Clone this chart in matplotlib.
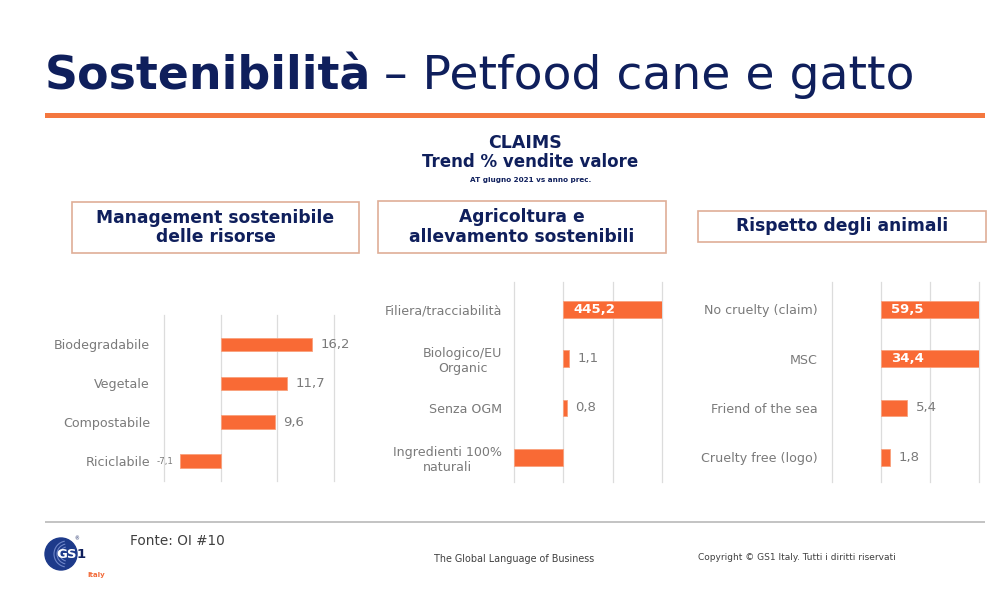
import matplotlib
matplotlib.use("Agg")
import matplotlib.pyplot as plt
import matplotlib.patches as patches
import numpy as np

# Data (% trend of sales value)
cat_management = ["Biodegradabile", "Vegetale", "Compostabile", "Riciclabile"]
val_management = [16.2, 11.7, 9.6, -7.1]

cat_agricoltura = ["Filiera/tracciabilità", "Biologico/EU\nOrganic", "Senza OGM", "Ingredienti 100%\nnaturali"]
val_agricoltura = [445.2, 1.1, 0.8, -10.0]
lab_agricoltura = ["445,2", "1,1", "0,8", None]   # last bar has no label in the source

cat_animali = ["No cruelty (claim)", "MSC", "Friend of the sea", "Cruelty free (logo)"]
val_animali = [59.5, 34.4, 5.4, 1.8]

panel_titles = ["Management sostenibile\ndelle risorse", "Agricoltura e\nallevamento sostenibili", "Rispetto degli animali"]

NAVY = "#0f1f5c"
ORANGE = "#f96a35"
LINE_ORANGE = "#f4773f"
GRAY_TXT = "#7a7a7a"
GRID = "#dcdcdc"
BOX_EDGE = "#dfae97"

W, H = 1000, 608
fig = plt.figure(figsize=(10, 6.08), dpi=100)
fig.patch.set_facecolor("white")


def fx(x):
    return x / W


def fy(y):
    return 1 - y / H


def fmt(v):
    return ("%.1f" % v).replace(".", ",")


def draw_panel(rect, cats, vals, labels, ylim, pad):
    left, top, right, bottom = rect
    ax = fig.add_axes([fx(left), fy(bottom), fx(right) - fx(left), fy(top) - fy(bottom)])
    xmin, xmax = -10, 20
    y = np.arange(len(cats))
    shown = np.clip(vals, xmin, xmax)
    ax.barh(y, shown, height=0.34, color=ORANGE, edgecolor="#f9a07c", linewidth=0.6, zorder=3)
    ax.set_xlim(xmin, xmax)
    ax.set_ylim(*ylim)
    ax.set_xticks([-10, 0, 10, 20])
    ax.xaxis.grid(True, color=GRID, linewidth=0.9, zorder=0)
    for gl in ax.get_xgridlines():
        gl.set_clip_on(False)
    ax.set_yticks(y)
    ax.set_yticklabels(cats, fontsize=9.1, color=GRAY_TXT, multialignment="center")
    ax.tick_params(axis="y", length=0, pad=pad)
    ax.tick_params(axis="x", length=0, labelbottom=False)
    for s in ax.spines.values():
        s.set_visible(False)
    for i, (v, sv, lab) in enumerate(zip(vals, shown, labels)):
        if lab is None:
            continue
        if v > xmax:
            ax.annotate(lab, (0, i), xytext=(7, 0), textcoords="offset points",
                        ha="left", va="center", fontsize=9.5, color="white", fontweight="bold", zorder=4)
        elif v < 0:
            ax.annotate(lab, (sv, i), xytext=(-5, 0), textcoords="offset points",
                        ha="right", va="center", fontsize=6.3, color=GRAY_TXT, zorder=4)
        else:
            ax.annotate(lab, (sv, i), xytext=(6, 0), textcoords="offset points",
                        ha="left", va="center", fontsize=9.5, color=GRAY_TXT, zorder=4)
    return ax


draw_panel((164, 315, 334, 480.5), cat_management, val_management,
           [fmt(v) for v in val_management], (3.5, -0.75), 10)
draw_panel((514, 282, 662, 482), cat_agricoltura, val_agricoltura,
           lab_agricoltura, (3.5, -0.55), 8.5)
draw_panel((832, 282, 979, 482), cat_animali, val_animali,
           [fmt(v) for v in val_animali], (3.5, -0.55), 10)

# Title
renderer = fig.canvas.get_renderer()
t1 = fig.text(fx(45), fy(89), "Sostenibilità", fontsize=33, fontweight="bold",
              color=NAVY, va="baseline", ha="left")
bb = t1.get_window_extent(renderer)
fig.text(bb.x1 / W + fx(13), fy(89), "– Petfood cane e gatto", fontsize=34,
         color=NAVY, va="baseline", ha="left")

# Orange rule and gray footer rule
fig.add_artist(patches.Rectangle((fx(45), fy(118)), fx(940), 5 / H,
                                 transform=fig.transFigure, color=LINE_ORANGE, lw=0))
fig.add_artist(patches.Rectangle((fx(45), fy(523)), fx(940), 2 / H,
                                 transform=fig.transFigure, color="#c4c4c4", lw=0))

# Subtitle
fig.text(fx(525), fy(143), "CLAIMS", fontsize=12.5, fontweight="bold", color=NAVY, ha="center", va="center")
fig.text(fx(530), fy(162), "Trend % vendite valore", fontsize=12, fontweight="bold", color=NAVY, ha="center", va="center")
fig.text(fx(531), fy(180), "AT giugno 2021 vs anno prec.", fontsize=5.2, fontweight="bold", color=NAVY, ha="center", va="center")

# Panel header boxes
boxes = [(72, 202, 359, 253), (378, 201, 666, 253), (698, 211, 986, 242)]
for (x0, y0, x1, y1), title in zip(boxes, panel_titles):
    fig.add_artist(patches.Rectangle((fx(x0), fy(y1)), fx(x1 - x0), (y1 - y0) / H,
                                     transform=fig.transFigure, facecolor="white",
                                     edgecolor=BOX_EDGE, lw=1.2))
    fig.text(fx((x0 + x1) / 2), fy((y0 + y1) / 2), title, fontsize=12.3, fontweight="bold",
             color=NAVY, ha="center", va="center", linespacing=1.1)

# Footer
fig.text(fx(130), fy(541), "Fonte: OI #10", fontsize=9.8, color="#404040", ha="left", va="center")
fig.text(fx(434), fy(559), "The Global Language of Business", fontsize=6.9, color="#404040", ha="left", va="center")
fig.text(fx(698), fy(558), "Copyright © GS1 Italy. Tutti i diritti riservati", fontsize=6.5, color="#404040", ha="left", va="center")

# GS1 logo (simple drawing)
logo = fig.add_axes([fx(40), fy(585), fx(70), 50 / H])
logo.set_xlim(0, 70)
logo.set_ylim(50, 0)
logo.set_aspect("equal")
logo.axis("off")
logo.add_patch(patches.Circle((21, 19), 16, color="#1d3a8a"))
for r in (13, 10, 7):
    logo.add_patch(patches.Arc((27, 19), 2 * r, 2 * r, theta1=100, theta2=260, color="#6f86c8", lw=0.8))
logo.text(27, 20, "GS", fontsize=9.5, color="white", fontweight="bold", ha="center", va="center")
logo.text(41, 20, "1", fontsize=9.5, color=NAVY, fontweight="bold", ha="center", va="center")
logo.text(37, 4, "®", fontsize=3.5, color=NAVY, ha="center", va="center")
logo.text(56, 40, "Italy", fontsize=5, color="#f26b3a", fontweight="bold", ha="center", va="center")

fig.savefig("out.png", dpi=100, facecolor="white")
